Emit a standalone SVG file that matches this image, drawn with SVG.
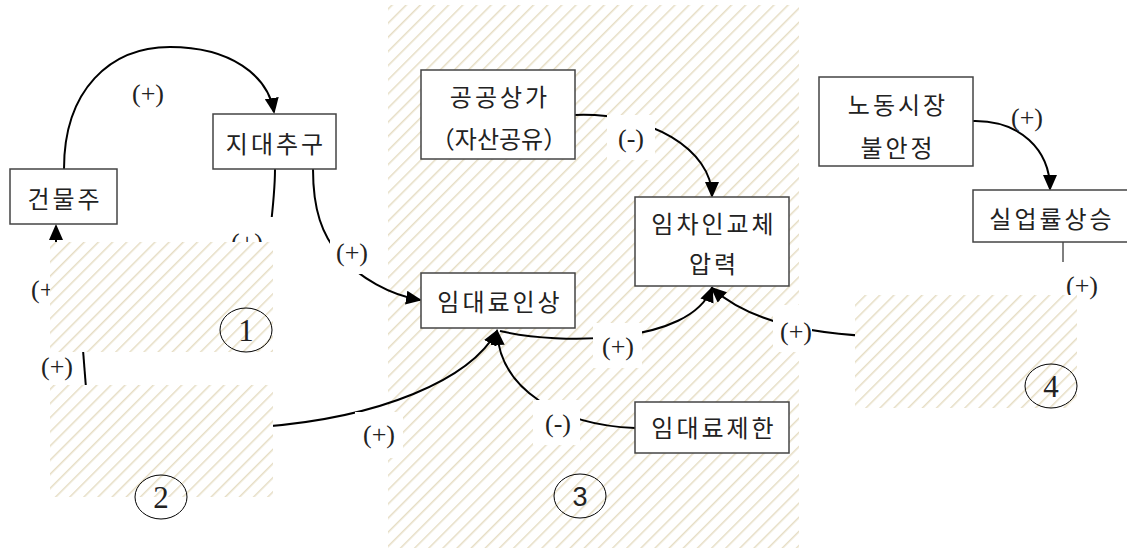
<svg xmlns="http://www.w3.org/2000/svg" width="1127" height="549" viewBox="0 0 1127 549">
<defs>
<pattern id="hatch" width="10" height="10" patternUnits="userSpaceOnUse" patternTransform="rotate(45)">
<rect width="10" height="10" fill="#ffffff"/>
<line x1="0" y1="0" x2="0" y2="10" stroke="#e6ddc4" stroke-width="3"/>
</pattern>
<marker id="arr" markerWidth="16" markerHeight="14" refX="14" refY="7" orient="auto" markerUnits="userSpaceOnUse">
<path d="M0,0 L16,7 L0,14 z" fill="#000"/>
</marker>
<style>
.region{fill:url(#hatch);stroke:none}
.box{fill:#fff;stroke:#444;stroke-width:1.5}
.kt{font-family:"Noto Sans CJK KR","Noto Sans",sans-serif;font-size:24px;letter-spacing:3px;fill:#222;text-anchor:middle;dominant-baseline:central}
.lbl{font-family:"Liberation Serif",serif;font-size:26px;fill:#222;text-anchor:middle;dominant-baseline:central}
.lb{fill:#fff;stroke:none}
.c{fill:none;stroke:#000;stroke-width:2}
.thin{fill:none;stroke:#000;stroke-width:1}
.ell{fill:none;stroke:#000;stroke-width:1}
.num{font-family:"Liberation Serif",serif;font-size:31px;fill:#222;text-anchor:middle;dominant-baseline:central}
.nums{font-family:"Liberation Sans",sans-serif;font-size:27px;fill:#222;text-anchor:middle;dominant-baseline:central}
</style>
</defs>
<rect width="1127" height="549" fill="#fff"/>
<g id="region3"><rect class="region" x="388" y="5" width="411" height="543"/></g>
<g id="connectors">
<path class="c" d="M64,169 C64,90 110,47 170,47 C230,47 268,75 274,112" marker-end="url(#arr)"/>
<path class="c" d="M275,169 C275,195 272,215 268,250"/>
<path class="c" d="M313,169 C313,210 322,235 340,256 C360,278 390,295 420,300" marker-end="url(#arr)"/>
<path class="c" d="M56,255 L56,226" marker-end="url(#arr)"/>
<path class="c" d="M83,350 L86,388"/>
<path class="c" d="M260,427 C380,418 470,380 497,331" marker-end="url(#arr)"/>
<path class="c" d="M575,115 C650,112 712,150 712,196" marker-end="url(#arr)"/>
<path class="c" d="M500,331 C560,345 690,345 712,288" marker-end="url(#arr)"/>
<path class="c" d="M870,336 C800,333 745,318 712,288" marker-end="url(#arr)"/>
<path class="c" d="M635,428 C560,425 500,390 497,331" marker-end="url(#arr)"/>
<path class="c" d="M973,121 C1020,120 1050,150 1050,189" marker-end="url(#arr)"/>
<path class="thin" d="M1063,242 L1063,300"/>
</g>
<g id="labels">
<text class="lbl" x="148" y="93">(+)</text>
<rect class="lb" x="228" y="217" width="47" height="48"/>
<text class="lbl" x="247" y="242">(+)</text>
<rect class="lb" x="330" y="237" width="45" height="37"/>
<text class="lbl" x="352" y="252">(+)</text>
<text class="lbl" x="47" y="289">(+)</text>
<text class="lbl" x="57" y="366">(+)</text>
<rect class="lb" x="355" y="412" width="48" height="46"/>
<text class="lbl" x="379" y="434">(+)</text>
<rect class="lb" x="607" y="115" width="48" height="45"/>
<text class="lbl" x="631" y="138">(-)</text>
<rect class="lb" x="593" y="323" width="49" height="45"/>
<text class="lbl" x="618" y="346">(+)</text>
<rect class="lb" x="533" y="400" width="47" height="45"/>
<text class="lbl" x="558" y="423">(-)</text>
<rect class="lb" x="773" y="305" width="39" height="47"/>
<text class="lbl" x="796" y="331">(+)</text>
<text class="lbl" x="1027" y="117">(+)</text>
<rect class="lb" x="1056" y="262" width="50" height="33"/>
<text class="lbl" x="1082" y="285">(+)</text>
</g>
<g id="n-geonmulju"><rect class="box" x="10" y="169" width="107" height="55"/><text class="kt" x="65" y="197">건물주</text></g>
<g id="n-jidae"><rect class="box" x="213" y="114" width="123" height="55"/><text class="kt" x="276" y="142">지대추구</text></g>
<g id="n-gonggong"><rect class="box" x="421" y="70" width="154" height="89"/><text class="kt" x="500" y="95">공공상가</text><text class="kt" x="499" y="137" style="letter-spacing:0px">（자산공유）</text></g>
<g id="n-imcha"><rect class="box" x="635" y="197" width="154" height="89"/><text class="kt" x="714" y="222">임차인교체</text><text class="kt" x="714" y="262">압력</text></g>
<g id="n-imdae"><rect class="box" x="421" y="273" width="154" height="55"/><text class="kt" x="500" y="300">임대료인상</text></g>
<g id="n-jehan"><rect class="box" x="635" y="402" width="154" height="51"/><text class="kt" x="714" y="426">임대료제한</text></g>
<g id="n-nodong"><rect class="box" x="819" y="77" width="154" height="89"/><text class="kt" x="898" y="103">노동시장</text><text class="kt" x="898" y="146">불안정</text></g>
<g id="n-sireop"><rect class="box" x="973" y="190" width="156" height="52"/><text class="kt" x="1052" y="217">실업률상승</text></g>
<g id="region1"><rect class="region" x="50" y="242" width="223" height="110"/><ellipse class="ell" cx="246" cy="330" rx="26" ry="22"/><text class="num" x="246" y="330">1</text></g>
<g id="region2"><rect class="region" x="50" y="385" width="223" height="112"/><ellipse class="ell" cx="161" cy="497" rx="26" ry="22"/><text class="num" x="161" y="497">2</text></g>
<g id="region3-label"><ellipse class="ell" cx="580" cy="496" rx="26" ry="22"/><text class="nums" x="580" y="497">3</text></g>
<g id="region4"><rect class="region" x="855" y="295" width="222" height="113"/><ellipse class="ell" cx="1051" cy="386" rx="26" ry="22"/><text class="num" x="1051" y="386">4</text></g>
</svg>
